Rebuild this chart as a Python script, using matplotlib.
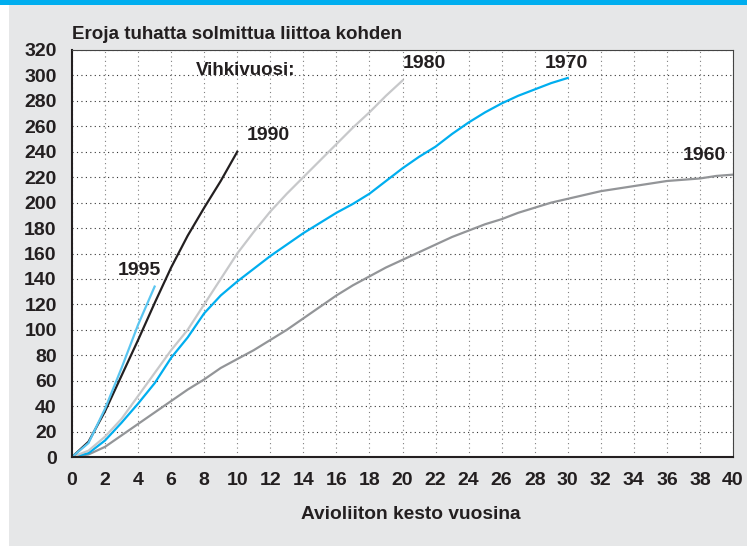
import numpy as np
import matplotlib.pyplot as plt
from matplotlib.patches import Rectangle

plt.rcParams['font.family'] = ['Liberation Sans', 'DejaVu Sans']
plt.rcParams['font.weight'] = 'bold'

# divorces per 1000 marriages by marriage duration (years), by wedding year
x1995 = [0, 1, 2, 3, 4, 5]
y1995 = [0, 11, 38, 70, 104, 134]

x1990 = [0, 1, 2, 3, 4, 5, 6, 7, 8, 9, 10]
y1990 = [0, 12, 36, 64, 92, 121, 149, 174, 196, 217, 240]

x1980 = [0, 1, 2, 3, 4, 5, 6, 7, 8, 9, 10, 11, 12, 13, 14, 15, 16, 17, 18, 19, 20]
y1980 = [0, 5, 16, 30, 48, 66, 84, 100, 120, 140, 160, 177, 193, 207, 220,
         233, 246, 259, 271, 284, 296]

x1970 = list(range(0, 31))
y1970 = [0, 3, 13, 27, 42, 58, 78, 94, 113, 127, 138, 148, 158, 167, 176, 184,
         192, 199, 207, 217, 227, 236, 244, 254, 263, 271, 278, 284, 289, 294, 298]

x1960 = list(range(0, 41))
y1960 = [0, 2, 8, 17, 26, 35, 44, 53, 61, 70, 77, 84, 92, 100, 109, 118, 127,
         135, 142, 149, 155, 161, 167, 173, 178, 183, 187, 192, 196, 200, 203,
         206, 209, 211, 213, 215, 217, 218, 219, 221, 222]

title = 'Eroja tuhatta solmittua liittoa kohden'
xlabel = 'Avioliiton kesto vuosina'

txt = '#231f20'
fig = plt.figure(figsize=(7.47, 5.46), dpi=100)
fig.patch.set_facecolor('white')
fig.patches.append(Rectangle((9 / 747, 0), 1, 1 - 5 / 546, transform=fig.transFigure,
                             facecolor='#e6e7e8', edgecolor='none', zorder=-2))
fig.patches.append(Rectangle((0, 1 - 5 / 546), 1, 5 / 546, transform=fig.transFigure,
                             facecolor='#00aeef', edgecolor='none', zorder=-2))

ax = fig.add_axes([72 / 747, 1 - 457 / 546, 661 / 747, 407 / 546])
ax.set_facecolor('white')

ax.plot(x1960, y1960, color='#939598', lw=1.6)
ax.plot(x1970, y1970, color='#00aeef', lw=1.6)
ax.plot(x1980, y1980, color='#c7c8ca', lw=1.6)
ax.plot(x1990, y1990, color='#231f20', lw=1.6)
ax.plot(x1995, y1995, color='#5ac5f0', lw=1.6)

lab = dict(fontsize=14, fontweight='bold', color=txt, ha='center', va='center')
ax.text(4.05, 147, '1995', **lab)
ax.text(11.9, 253, '1990', **lab)
ax.text(21.3, 309, '1980', **lab)
ax.text(29.9, 309, '1970', **lab)
ax.text(38.25, 237, '1960', **lab)
ax.text(10.5, 304, 'Vihkivuosi:', fontsize=13.5, fontweight='bold', color=txt,
        ha='center', va='center')

ax.set_xlim(0, 40)
ax.set_ylim(0, 320)
ax.set_xticks(np.arange(0, 41, 2))
ax.set_yticks(np.arange(0, 321, 20))
ax.tick_params(length=0, labelsize=14, labelcolor=txt)
ax.tick_params(axis='y', pad=11)
ax.tick_params(axis='x', pad=11)
for lbl in ax.get_xticklabels() + ax.get_yticklabels():
    lbl.set_fontweight('bold')

ax.grid(axis='y', color='#333333', linestyle=(0, (1, 3)), lw=0.8)
ax.grid(axis='x', color='#808080', linestyle=(0, (1, 3)), lw=0.8)

for s in ['left', 'bottom']:
    ax.spines[s].set_linewidth(1.5)
    ax.spines[s].set_color(txt)
for s in ['top', 'right']:
    ax.spines[s].set_linewidth(0.8)
    ax.spines[s].set_color('#444444')

fig.text(72 / 747, 1 - 39 / 546, title, fontsize=13.5, fontweight='bold', color=txt,
         ha='left', va='baseline')
fig.text(411 / 747, 1 - 519 / 546, xlabel, fontsize=13.8, fontweight='bold', color=txt,
         ha='center', va='baseline')

fig.savefig('out.png', dpi=100)
